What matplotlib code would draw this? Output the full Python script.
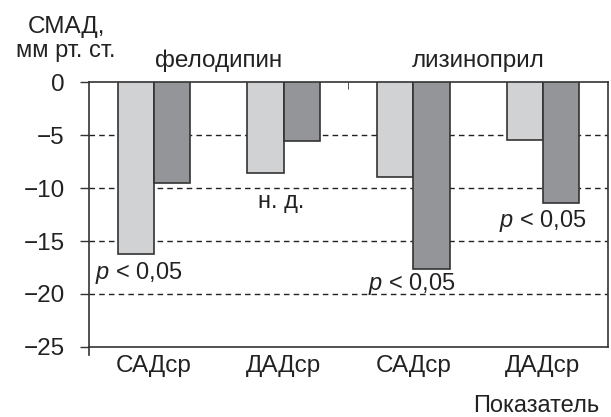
import numpy as np
import matplotlib
matplotlib.use("Agg")
import matplotlib.pyplot as plt

plt.rcParams['font.family'] = ['Liberation Sans', 'DejaVu Sans']
plt.rcParams['mathtext.fontset'] = 'custom'
plt.rcParams['mathtext.it'] = 'Liberation Sans:italic'
plt.rcParams['mathtext.rm'] = 'Liberation Sans'

# data
categories = ["САДср", "ДАДср", "САДср", "ДАДср"]
drugs = ["фелодипин", "лизиноприл"]
light_vals = [-16.2, -8.6, -9.0, -5.5]
dark_vals = [-9.5, -5.6, -17.6, -11.4]
yticks = [0, -5, -10, -15, -20, -25]

fig = plt.figure(figsize=(6.11, 4.17), dpi=100)
ax = fig.add_axes([0.1457, 0.168, 0.849, 0.635])

x = np.arange(len(categories)) + 0.5
w = 0.28
txt = "#222222"

ax.bar(x - w / 2, light_vals, w, color="#d1d2d4", edgecolor="#333333", linewidth=1.2, zorder=3)
ax.bar(x + w / 2, dark_vals, w, color="#939598", edgecolor="#333333", linewidth=1.2, zorder=3)

ax.set_xlim(0, 4)
ax.set_ylim(-25, 0)
ax.set_yticks(yticks)
ax.set_yticklabels(["0", "−5", "−10", "−15", "−20", "−25"], fontsize=17.5, color=txt)
ax.set_xticks(x)
ax.set_xticklabels(categories, fontsize=17.5, color=txt)
ax.tick_params(axis='x', length=0, pad=6)
ax.tick_params(axis='y', length=6.5, width=1, direction='out', color="#333333", pad=11)

# separator tick between drug groups
ax.set_xticks([2], minor=True)
ax.tick_params(axis='x', which='minor', top=True, bottom=False, direction='in', length=5, color="#333333")
ax.plot([0, 0], [0, -0.03], transform=ax.transAxes, color="#333333", lw=1.2, clip_on=False)

for v in [-5, -10, -15, -20]:
    ax.axhline(v, color="#222222", ls=(0, (4, 3)), lw=1, zorder=1)

for s in ax.spines.values():
    s.set_color("#333333")
    s.set_linewidth(1.2)

# labels
ax.annotate(drugs[0], (1, 1.0), xycoords=ax.get_xaxis_transform(), xytext=(0, 7),
            textcoords='offset points', ha='center', va='bottom', fontsize=17.5, color=txt)
ax.annotate(drugs[1], (3, 1.0), xycoords=ax.get_xaxis_transform(), xytext=(0, 7),
            textcoords='offset points', ha='center', va='bottom', fontsize=17.5, color=txt)
fig.text(0.108, 1 - 33 / 417, "СМАД,", ha='center', va='baseline', fontsize=17.5, color=txt)
fig.text(0.108, 1 - 57 / 417, "мм рт. ст.", ha='center', va='baseline', fontsize=17, color=txt)
fig.text(0.98, 0.012, "Показатель", ha='right', va='baseline', fontsize=17, color=txt)

ax.text(1.30, -11.9, "н. д.", ha='left', va='baseline', fontsize=17, color=txt)
ax.text(0.046, -18.6, "$p$ < 0,05", ha='left', va='baseline', fontsize=17, color=txt)
ax.text(2.15, -19.6, "$p$ < 0,05", ha='left', va='baseline', fontsize=17, color=txt)
ax.text(3.16, -13.7, "$p$ < 0,05", ha='left', va='baseline', fontsize=17, color=txt)

fig.savefig("out.png", dpi=100)
